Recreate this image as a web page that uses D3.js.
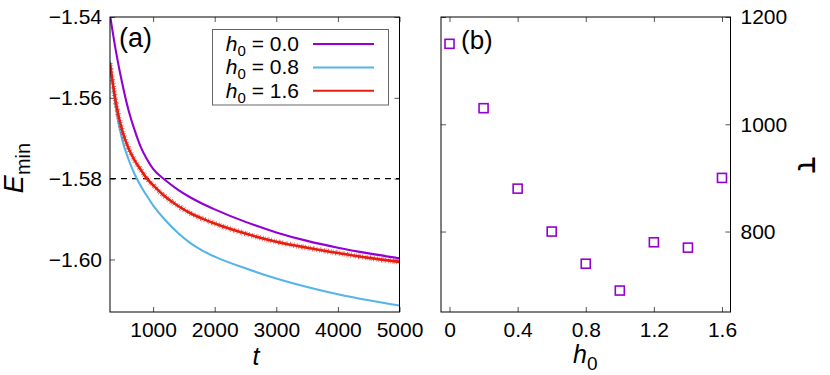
<!DOCTYPE html>
<html>
<head>
<meta charset="utf-8">
<script src="https://cdn.jsdelivr.net/npm/d3@7"></script>
<style>
body { margin: 0; background: #fff; }
svg { font-family: "Liberation Sans", Arial, sans-serif; }
.tick text { fill: #000; }
.tick line { stroke: #555; }
</style>
</head>
<body>
<svg id="chart" width="830" height="375"></svg>
<script>
// panel (a): E_min vs t
const tSamples = [300, 400, 500, 600, 700, 800, 900, 1000, 1200, 1400, 1600, 1800, 2000, 2500, 3000, 3500, 4000, 4500, 5000];
const eH00 = [-1.5395, -1.5488, -1.5565, -1.5630, -1.5680, -1.5722, -1.5752, -1.5776, -1.5804, -1.5827, -1.5846, -1.5862, -1.5876, -1.5907, -1.5933, -1.5954, -1.5971, -1.5985, -1.5997];
const eH08 = [-1.5510, -1.5630, -1.5705, -1.5752, -1.5789, -1.5818, -1.5843, -1.5866, -1.5903, -1.5934, -1.5959, -1.5978, -1.5993, -1.6022, -1.6047, -1.6068, -1.6086, -1.6101, -1.6114];
const eH16 = [-1.5515, -1.5615, -1.5682, -1.5725, -1.5755, -1.5778, -1.5800, -1.5816, -1.5845, -1.5867, -1.5885, -1.5899, -1.5911, -1.5936, -1.5956, -1.5971, -1.5984, -1.5996, -1.6006];
const seriesNames = ["0.0", "0.8", "1.6"];
const seriesColors = ["#9400d3", "#56b4e9", "#e51e10"];
const eTicks = [-1.54, -1.56, -1.58, -1.60];
const tTicks = [1000, 2000, 3000, 4000, 5000];
const eThreshold = -1.58;

// panel (b): tau vs h0
const h0Values = [0, 0.2, 0.4, 0.6, 0.8, 1.0, 1.2, 1.4, 1.6];
const tauValues = [1150, 1030, 880, 800, 740, 690, 780, 770, 900];
const h0Ticks = [0, 0.4, 0.8, 1.2, 1.6];
const tauTicks = [800, 1000, 1200];

const TOP = 17, BOTTOM = 312;
const A_LEFT = 110, A_RIGHT = 399.5;
const B_LEFT = 441, B_RIGHT = 730.5;
const TICK = 5;

let svg = d3.select("svg#chart");

// ---------- panel (a)
let xA = d3.scaleLinear().domain([300, 5000]).range([A_LEFT, A_RIGHT]);
let yA = d3.scaleLinear().domain([-1.613, -1.54]).range([BOTTOM, TOP]);

svg.append("defs").append("clipPath")
	.attr("id", "clipA")
	.append("rect")
	.attr("x", A_LEFT).attr("y", TOP)
	.attr("width", A_RIGHT - A_LEFT).attr("height", BOTTOM - TOP);

svg.append("g")
	.attr("transform", `translate(${A_LEFT},0)`)
	.call(d3.axisLeft(yA).tickValues(eTicks).tickSize(-TICK).tickPadding(8).tickFormat(d3.format(".2f")))
	.call(g => g.select(".domain").remove());
svg.append("g")
	.attr("transform", `translate(${A_RIGHT},0)`)
	.call(d3.axisRight(yA).tickValues(eTicks).tickSize(-TICK).tickFormat(""))
	.call(g => g.select(".domain").remove());
svg.append("g")
	.attr("transform", `translate(0,${BOTTOM})`)
	.call(d3.axisBottom(xA).tickValues(tTicks).tickSize(-TICK).tickPadding(10).tickFormat(d3.format("d")))
	.call(g => g.select(".domain").remove());
svg.append("g")
	.attr("transform", `translate(0,${TOP})`)
	.call(d3.axisTop(xA).tickValues(tTicks).tickSize(-TICK).tickFormat(""))
	.call(g => g.select(".domain").remove());

// dashed threshold
svg.append("line")
	.attr("x1", A_LEFT).attr("x2", A_RIGHT)
	.attr("y1", yA(eThreshold)).attr("y2", yA(eThreshold))
	.attr("stroke", "#000")
	.attr("stroke-width", 1.4)
	.attr("stroke-dasharray", "6,5");

let line = d3.line()
	.x(d => xA(d[0]))
	.y(d => yA(d[1]))
	.curve(d3.curveMonotoneX);

let allSeries = [eH00, eH08, eH16];
let plotA = svg.append("g").attr("clip-path", "url(#clipA)");
allSeries.forEach((vals, i) => {
	let pts = tSamples.map((t, j) => [t, vals[j]]);
	if (i === 2) {
		// the h0 = 1.6 run is noisy: a ragged band under the line
		plotA.append("path")
			.datum(pts)
			.attr("d", line)
			.attr("fill", "none")
			.attr("stroke", seriesColors[i])
			.attr("stroke-width", 5.5)
			.attr("stroke-dasharray", "0.6,1.2,0.5,2.2,0.8,0.9,0.4,1.7,0.7,2.6")
			.attr("opacity", 0.85);
	}
	plotA.append("path")
		.datum(pts)
		.attr("d", line)
		.attr("fill", "none")
		.attr("stroke", seriesColors[i])
		.attr("stroke-width", i === 2 ? 2.6 : 2.1)
		;
});

svg.append("rect")
	.attr("x", A_LEFT).attr("y", TOP)
	.attr("width", A_RIGHT - A_LEFT).attr("height", BOTTOM - TOP)
	.attr("fill", "none").attr("stroke", "#000").attr("stroke-width", 1);

// legend
svg.append("rect")
	.attr("x", 212.5).attr("y", 29.5)
	.attr("width", 176).attr("height", 75.5)
	.attr("fill", "#fff").attr("stroke", "#666").attr("stroke-width", 1);

seriesNames.forEach((name, i) => {
	let rowY = 44 + i * 23.4;
	let lt = svg.append("text")
		.attr("x", 299).attr("y", rowY + 7)
		.attr("text-anchor", "end")
		.style("font-size", "21px");
	lt.append("tspan").style("font-style", "italic").text("h");
	lt.append("tspan").attr("dy", 5).style("font-size", "15px").text("0");
	lt.append("tspan").attr("dy", -5).text(" = " + name);
	svg.append("line")
		.attr("x1", 313).attr("x2", 374)
		.attr("y1", rowY).attr("y2", rowY)
		.attr("stroke", seriesColors[i])
		.attr("stroke-width", 2);
});

svg.append("text")
	.text("(a)")
	.attr("x", 119).attr("y", 47)
	.style("font-size", "27px");

let eLabel = svg.append("text")
	.attr("transform", "translate(23,168) rotate(-90)")
	.attr("text-anchor", "middle")
	.style("font-size", "27px");
eLabel.append("tspan").style("font-style", "italic").text("E");
eLabel.append("tspan").attr("dy", 7).style("font-size", "20px").text("min");

svg.append("text")
	.text("t")
	.attr("x", 256).attr("y", 365)
	.attr("text-anchor", "middle")
	.style("font-size", "25px")
	.style("font-style", "italic");

// ---------- panel (b)
let xB = d3.scaleLinear().domain([-0.05, 1.65]).range([B_LEFT, B_RIGHT]);
let yB = d3.scaleLinear().domain([650, 1200]).range([BOTTOM, TOP]);

svg.append("g")
	.attr("transform", `translate(${B_RIGHT},0)`)
	.call(d3.axisRight(yB).tickValues(tauTicks).tickSize(-TICK).tickPadding(10).tickFormat(d3.format("d")))
	.call(g => g.select(".domain").remove());
svg.append("g")
	.attr("transform", `translate(${B_LEFT},0)`)
	.call(d3.axisLeft(yB).tickValues(tauTicks).tickSize(-TICK).tickFormat(""))
	.call(g => g.select(".domain").remove());
svg.append("g")
	.attr("transform", `translate(0,${BOTTOM})`)
	.call(d3.axisBottom(xB).tickValues(h0Ticks).tickSize(-TICK).tickPadding(10).tickFormat(d => d === 0 ? "0" : d3.format(".1f")(d)))
	.call(g => g.select(".domain").remove());
svg.append("g")
	.attr("transform", `translate(0,${TOP})`)
	.call(d3.axisTop(xB).tickValues(h0Ticks).tickSize(-TICK).tickFormat(""))
	.call(g => g.select(".domain").remove());

svg.selectAll(".tick text").style("font-size", "21px");

svg.append("g")
	.selectAll("rect")
	.data(h0Values.map((h, i) => [h, tauValues[i]]))
	.join("rect")
	.attr("x", d => xB(d[0]) - 4.5)
	.attr("y", d => yB(d[1]) - 4.5)
	.attr("width", 9).attr("height", 9)
	.attr("fill", "none")
	.attr("stroke", "#9400d3")
	.attr("stroke-width", 1.6);

svg.append("rect")
	.attr("x", B_LEFT).attr("y", TOP)
	.attr("width", B_RIGHT - B_LEFT).attr("height", BOTTOM - TOP)
	.attr("fill", "none").attr("stroke", "#000").attr("stroke-width", 1);

svg.append("text")
	.text("(b)")
	.attr("x", 461).attr("y", 49)
	.style("font-size", "26px");

let hLabel = svg.append("text")
	.attr("x", 573).attr("y", 363)
	.style("font-size", "25px");
hLabel.append("tspan").style("font-style", "italic").text("h");
hLabel.append("tspan").attr("dy", 7).style("font-size", "19px").text("0");

svg.append("text")
	.text("τ")
	.attr("transform", "translate(798,165) rotate(90)")
	.attr("text-anchor", "middle")
	.style("font-family", "'DejaVu Sans', sans-serif")
	.style("font-size", "30px");
</script>
</body>
</html>
